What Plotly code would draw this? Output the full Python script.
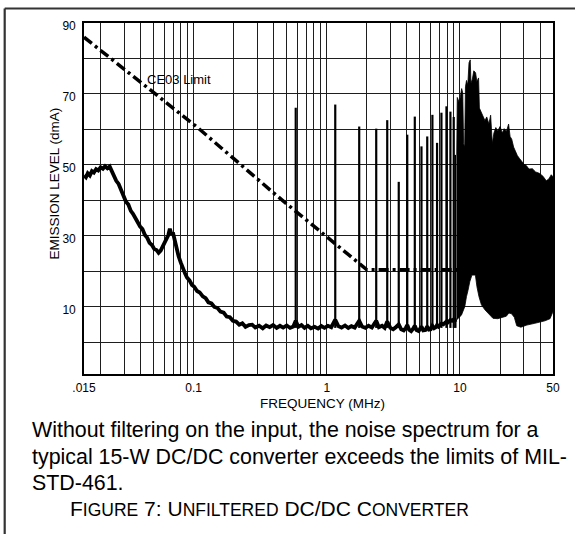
import math
import plotly.graph_objects as go

# ---------------- data ----------------
noise_freq = [
    0.015, 0.0155, 0.016, 0.0166, 0.0172, 0.0178, 0.0185, 0.0192, 0.02, 0.0208,
    0.0216, 0.0225, 0.0234, 0.0243, 0.0252, 0.0262, 0.0273, 0.0285, 0.0298, 0.031,
    0.0323, 0.0337, 0.035, 0.0365, 0.038, 0.0396, 0.0412, 0.043, 0.0448, 0.0466,
    0.0486, 0.0505, 0.0525, 0.0545, 0.0565, 0.0585, 0.0605, 0.0625, 0.0645, 0.0662,
    0.068, 0.0698, 0.072, 0.0745, 0.077, 0.08, 0.083, 0.086, 0.089, 0.093,
    0.097, 0.101, 0.106, 0.111, 0.117, 0.123, 0.129, 0.136, 0.143, 0.151,
    0.159, 0.168, 0.177, 0.187, 0.197, 0.208, 0.22, 0.232, 0.245, 0.26,
    0.275, 0.29, 0.31, 0.33, 0.35, 0.372, 0.395, 0.42, 0.445, 0.47,
    0.5, 0.53, 0.56, 0.584, 0.61, 0.645, 0.68, 0.72, 0.76, 0.81,
    0.86, 0.91, 0.96, 1.02, 1.08, 1.157, 1.22, 1.29, 1.37, 1.45,
    1.53, 1.62, 1.751, 1.84, 1.95, 2.06, 2.18, 2.35, 2.46, 2.6,
    2.72, 2.843, 3.0, 3.15, 3.3, 3.47, 3.62, 3.78, 3.92, 4.02,
    4.15, 4.3, 4.45, 4.58, 4.72, 4.9, 5.14, 5.3, 5.5, 5.68,
    5.85, 6.03, 6.21, 6.4, 6.6, 6.73, 6.9, 7.1, 7.26, 7.5,
    7.7, 7.92, 8.1, 8.3, 8.48, 8.7, 8.98, 9.2, 9.46,
]
noise_level = [
    47.0, 46.5, 47.6, 47.0, 48.2, 47.8, 48.8, 48.4, 49.3, 48.9,
    49.6, 49.0, 49.5, 48.0, 46.8, 45.5, 44.6, 42.8, 41.6, 39.6,
    38.8, 37.0, 36.2, 34.9, 34.2, 32.6, 31.9, 30.2, 29.4, 28.0,
    27.4, 26.3, 26.0, 25.2, 25.8, 26.9, 27.8, 29.0, 30.2, 32.0,
    30.4, 30.9, 28.6, 26.8, 24.2, 22.4, 20.6, 19.4, 18.2, 17.4,
    16.1, 15.6, 14.4, 14.0, 12.9, 12.4, 11.2, 10.9, 9.9, 9.6,
    8.6, 8.3, 7.2, 7.0, 6.0, 5.8, 4.9, 5.3, 4.3, 4.8,
    4.9, 4.1, 4.6, 3.9, 4.7, 4.2, 4.8, 4.0, 4.6, 4.1,
    4.7, 4.0, 4.4, 6.0, 4.3, 4.8, 4.0, 4.6, 3.9, 4.3,
    3.8, 4.5, 4.0, 4.6, 4.2, 6.3, 4.5, 4.1, 4.7, 4.0,
    4.5, 4.1, 6.0, 4.4, 4.0, 4.6, 4.1, 6.0, 4.2, 4.6,
    4.0, 5.8, 4.0, 3.6, 4.2, 5.0, 3.6, 3.3, 4.0, 4.8,
    3.5, 3.1, 3.8, 4.6, 3.4, 3.1, 4.4, 3.3, 3.4, 4.4,
    3.5, 3.6, 4.6, 3.9, 4.2, 4.8, 4.4, 4.7, 5.2, 5.0,
    5.3, 5.8, 5.5, 5.8, 6.2, 6.0, 6.4, 6.2, 6.3,
]

# harmonic spikes of the switching frequency
spike_freq = [0.584, 1.157, 1.751, 2.35, 2.843, 3.47, 4.02, 4.58, 5.14,
              5.68, 6.21, 6.73, 7.26, 7.92, 8.48, 8.98, 9.25]
spike_peak = [66.1, 67.0, 60.8, 60.2, 62.6, 45.2, 58.5, 63.6, 55.2,
              58.0, 64.1, 56.2, 64.7, 66.5, 65.0, 63.5, 52.8]
spike_floor = 4.0

# dense high-frequency band (upper and lower envelopes)
band_upper_freq = [
    9.46, 9.55, 9.9, 10.1, 10.3, 10.5, 10.65, 10.85, 11.0, 11.2,
    11.45, 11.7, 11.95, 12.1, 12.4, 12.7, 13.1, 13.4, 13.8, 14.0,
    14.4, 14.9, 15.4, 15.9, 16.5, 17.0, 17.5, 18.0, 18.6, 19.2,
    20.0, 20.8, 21.5, 22.4, 23.2, 23.8, 24.5, 25.3, 26.2, 27.0,
    28.0, 29.0, 30.2, 31.5, 33.0, 35.0, 37.0, 39.5, 42.0, 44.5,
    46.5, 48.5, 50.0,
]
band_upper_level = [
    52.8, 69.0, 67.5, 69.5, 71.5, 70.2, 56.0, 55.0, 72.0, 73.8,
    72.5, 78.8, 79.6, 73.0, 74.2, 76.5, 76.0, 73.5, 74.5, 66.0,
    64.8, 63.5, 62.5, 63.5, 61.5, 64.0, 56.0, 59.0, 60.5, 59.5,
    60.8, 59.0, 60.2, 59.5, 61.5, 58.0, 57.2, 55.0, 53.5, 52.6,
    51.8, 51.0, 50.2, 49.8, 48.8, 48.9, 48.0, 47.6, 46.8, 45.5,
    46.0, 47.2, 46.6,
]
band_lower_freq = [
    9.46, 10.26, 10.87, 11.19, 11.5, 11.85, 12.3, 13.06, 13.42, 13.9,
    14.5, 15.4, 16.3, 17.7, 19.2, 21.0, 22.3, 23.3, 24.4, 25.6,
    26.7, 28.7, 31.8, 36.5, 40.0, 43.5, 47.5, 50.0,
]
band_lower_level = [
    6.3, 7.6, 10.0, 12.8, 14.6, 17.0, 18.9, 18.9, 15.6, 12.8,
    10.5, 9.1, 8.0, 6.7, 6.6, 7.0, 7.3, 8.2, 8.0, 7.0,
    4.6, 4.2, 4.8, 5.3, 5.6, 6.0, 6.6, 8.6,
]

# CE03 limit
limit_freq = [0.015, 0.107, 0.43, 2.0, 50.0]
limit_level = [86.0, 60.5, 41.0, 20.4, 20.4]

# axes
x_min, x_max = 0.015, 50.0
y_min, y_max = -9, 90
x_label_map = {0.015: ".015", 0.1: "0.1", 1: "1", 10: "10", 50: "50"}
y_label_map = {10: "10", 30: "30", 50: "50", 70: "70", 90: "90"}

caption_lines = [
    "Without filtering on the input, the noise spectrum for a",
    "typical 15-W DC/DC converter exceeds the limits of MIL-",
    "STD-461.",
]

# ---------------- figure ----------------
FONT = "Liberation Sans, Arial, Helvetica, sans-serif"
W, H = 575, 534
ML, MR, MT, MB = 84, 22, 23, 160
PW, PH = W - ML - MR, H - MT - MB


def px_x(p):
    return (p - ML) / PW


def px_y(p):
    return (H - MB - p) / PH


x_grid = [x_min]
for dec in (0.01, 0.1, 1, 10):
    for m in range(1, 10):
        v = round(dec * m, 4)
        if x_min < v <= x_max:
            x_grid.append(v)
x_text = [x_label_map.get(v, "") for v in x_grid]
y_grid = list(range(0, 91, 10))
y_text = [y_label_map.get(v, "") for v in y_grid]

fig = go.Figure()

# dense band
fig.add_trace(go.Scatter(
    x=band_upper_freq + band_lower_freq[::-1],
    y=band_upper_level + band_lower_level[::-1],
    mode="lines", fill="toself", fillcolor="black",
    line=dict(color="black", width=0.8), hoverinfo="skip",
))

# spikes
sx, sy = [], []
for f, p in zip(spike_freq, spike_peak):
    sx += [f, f, None]
    sy += [spike_floor, p, None]
fig.add_trace(go.Scatter(x=sx, y=sy, mode="lines",
                         line=dict(color="black", width=2.2), hoverinfo="skip"))

# noise floor curve
fig.add_trace(go.Scatter(x=noise_freq, y=noise_level, mode="lines",
                         line=dict(color="black", width=3.8)))

# limit
fig.add_trace(go.Scatter(x=limit_freq, y=limit_level, mode="lines",
                         line=dict(color="black", width=3.5,
                                   dash="10px,4px,3px,4px")))

fig.update_layout(
    width=W, height=H,
    margin=dict(l=ML, r=MR, t=MT, b=MB, autoexpand=False),
    paper_bgcolor="white", plot_bgcolor="white",
    showlegend=False,
    font=dict(family=FONT, color="black", size=12),
)
fig.update_xaxes(
    type="log", range=[math.log10(x_min), math.log10(x_max)],
    tickmode="array", tickvals=x_grid, ticktext=x_text,
    showgrid=True, gridcolor="#1e1e1e", gridwidth=1.2,
    showline=True, linecolor="black", linewidth=1.6, mirror=True,
    ticks="", zeroline=False, tickfont=dict(size=12, family=FONT),
    ticklabelstandoff=2,
)
fig.update_yaxes(
    range=[y_min, y_max],
    tickmode="array", tickvals=y_grid, ticktext=y_text,
    showgrid=True, gridcolor="#1e1e1e", gridwidth=1.2,
    showline=True, linecolor="black", linewidth=1.6, mirror=True,
    ticks="", zeroline=False, tickfont=dict(size=12, family=FONT),
    ticklabelshift=3, ticklabelstandoff=4,
)

ann = []
ann.append(dict(x=math.log10(0.0772), y=74.2, xref="x", yref="y",
                text="CE03 Limit", showarrow=False,
                font=dict(size=13, family=FONT, color="black")))
ann.append(dict(x=px_x(54), y=px_y(183.5), xref="paper", yref="paper",
                text="EMISSION LEVEL (dmA)", textangle=-90, showarrow=False,
                xanchor="center", yanchor="middle",
                font=dict(size=13.5, family=FONT, color="black")))
ann.append(dict(x=px_x(322), y=px_y(403.5), xref="paper", yref="paper",
                text="FREQUENCY (MHz)", showarrow=False,
                xanchor="center", yanchor="middle",
                font=dict(size=13.5, family=FONT, color="black")))
for i, (line, cy) in enumerate(zip(caption_lines, [430.0, 456.6, 483.2])):
    ann.append(dict(x=px_x(30), y=px_y(cy), xref="paper", yref="paper",
                    text=line, showarrow=False, xanchor="left", yanchor="middle",
                    font=dict(size=21.4, family=FONT, color="black")))
sm = "<span style='font-size:17.5px'>"
fig_caption = ("F" + sm + "IGURE</span> 7: U" + sm + "NFILTERED</span> DC/DC C"
               + sm + "ONVERTER</span>")
ann.append(dict(x=px_x(68), y=px_y(508.5), xref="paper", yref="paper",
                text=fig_caption, showarrow=False, xanchor="left", yanchor="middle",
                font=dict(size=21, family=FONT, color="black")))
fig.update_layout(annotations=ann)

# page frame (top and left rules)
fig.add_shape(type="line", xref="paper", yref="paper", layer="above",
              x0=px_x(4.7), x1=px_x(W + 5), y0=px_y(8.5), y1=px_y(8.5),
              line=dict(color="#333333", width=2.2))
fig.add_shape(type="line", xref="paper", yref="paper", layer="above",
              x0=px_x(4.7), x1=px_x(4.7), y0=px_y(8.5), y1=px_y(H + 5),
              line=dict(color="#333333", width=2.2))

fig.write_html("out.html",
               config={"displayModeBar": False},
               post_script="document.body.style.margin='0px';"
                           "document.body.style.overflow='hidden';")
